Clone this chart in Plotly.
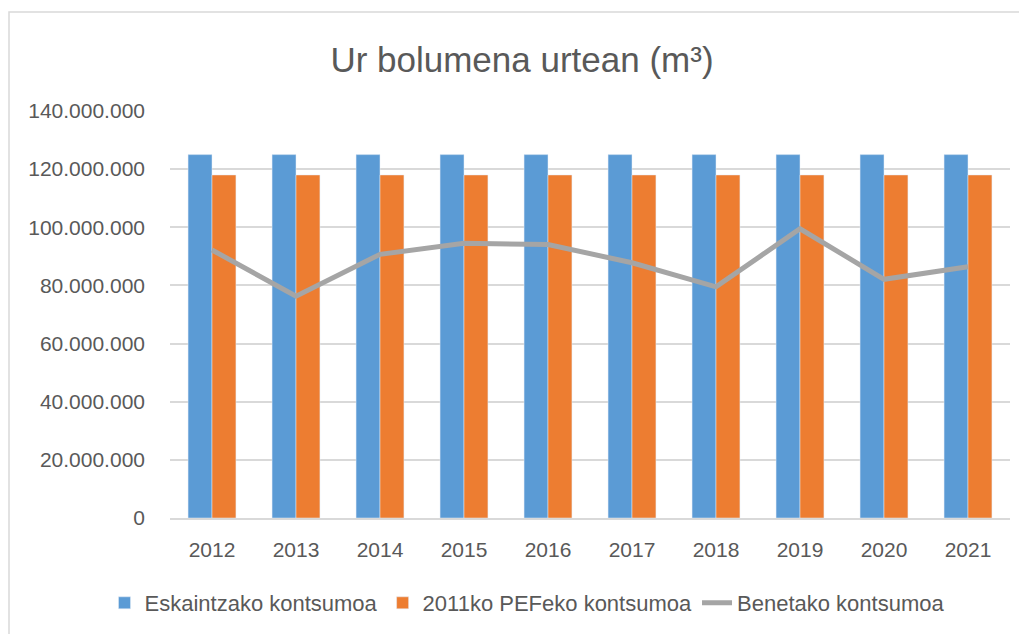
import plotly.graph_objects as go

years = ["2012", "2013", "2014", "2015", "2016", "2017", "2018", "2019", "2020", "2021"]
eskaintza = [125000000] * 10
pef2011 = [118000000] * 10
benetako = [92200000, 76300000, 90700000, 94500000, 94100000, 87800000, 79500000, 99500000, 82100000, 86400000]
y_ticks = [0, 20000000, 40000000, 60000000, 80000000, 100000000, 120000000, 140000000]

OFF = 8  # page body margin
W, H = 1027 - OFF, 634 - OFF
L, R, T, B = 170 - OFF, 1027 - 1010, 111 - OFF, 634 - 518
pw, ph = W - L - R, H - T - B

def px_x(x):
    return (x - OFF - L) / pw

def px_y(y):
    return (H - B - (y - OFF)) / ph

fnt = "Liberation Sans, Arial, sans-serif"
grey = "#595959"

fig = go.Figure()
fig.add_trace(go.Bar(x=years, y=eskaintza, name="Eskaintzako kontsumoa", marker_color="#5B9BD5"))
fig.add_trace(go.Bar(x=years, y=pef2011, name="2011ko PEFeko kontsumoa", marker_color="#ED7D31"))
fig.add_trace(go.Scatter(x=years, y=benetako, name="Benetako kontsumoa", mode="lines",
                         line=dict(color="#A5A5A5", width=5)))

fig.update_layout(
    width=W, height=H,
    margin=dict(l=L, r=R, t=T, b=B, autoexpand=False),
    paper_bgcolor="white", plot_bgcolor="white",
    separators=",.",
    barmode="group", bargap=0.43, bargroupgap=0,
    font=dict(family=fnt, color=grey, size=21),
    title=dict(text="Ur bolumena urtean (m³)", xref="container", x=(522 - OFF) / W, xanchor="center",
               yref="container", y=1 - (60 - OFF) / H, yanchor="middle",
               font=dict(size=35, color=grey, family=fnt)),
    legend=dict(orientation="h", x=px_x(527), xanchor="center", y=px_y(603), yanchor="middle",
                font=dict(size=22, color=grey), traceorder="normal"),
    showlegend=True,
)
fig.update_xaxes(showgrid=False, showline=True, linecolor="#D9D9D9", linewidth=1.5,
                 ticks="", tickfont=dict(size=21, color=grey), ticklabelstandoff=12)
fig.update_yaxes(range=[0, 140000000], tickvals=y_ticks, tickformat=",d",
                 showgrid=True, gridcolor="#D9D9D9", gridwidth=1.5, zeroline=False,
                 showline=False, ticks="", tickfont=dict(size=21, color=grey),
                 ticklabelstandoff=24)

fig.add_shape(type="rect", xref="paper", yref="paper",
              x0=px_x(9), x1=px_x(1040), y0=px_y(12), y1=px_y(650),
              line=dict(color="#D9D9D9", width=1.5), fillcolor="rgba(0,0,0,0)", layer="below")

fig.write_html("out.html")
